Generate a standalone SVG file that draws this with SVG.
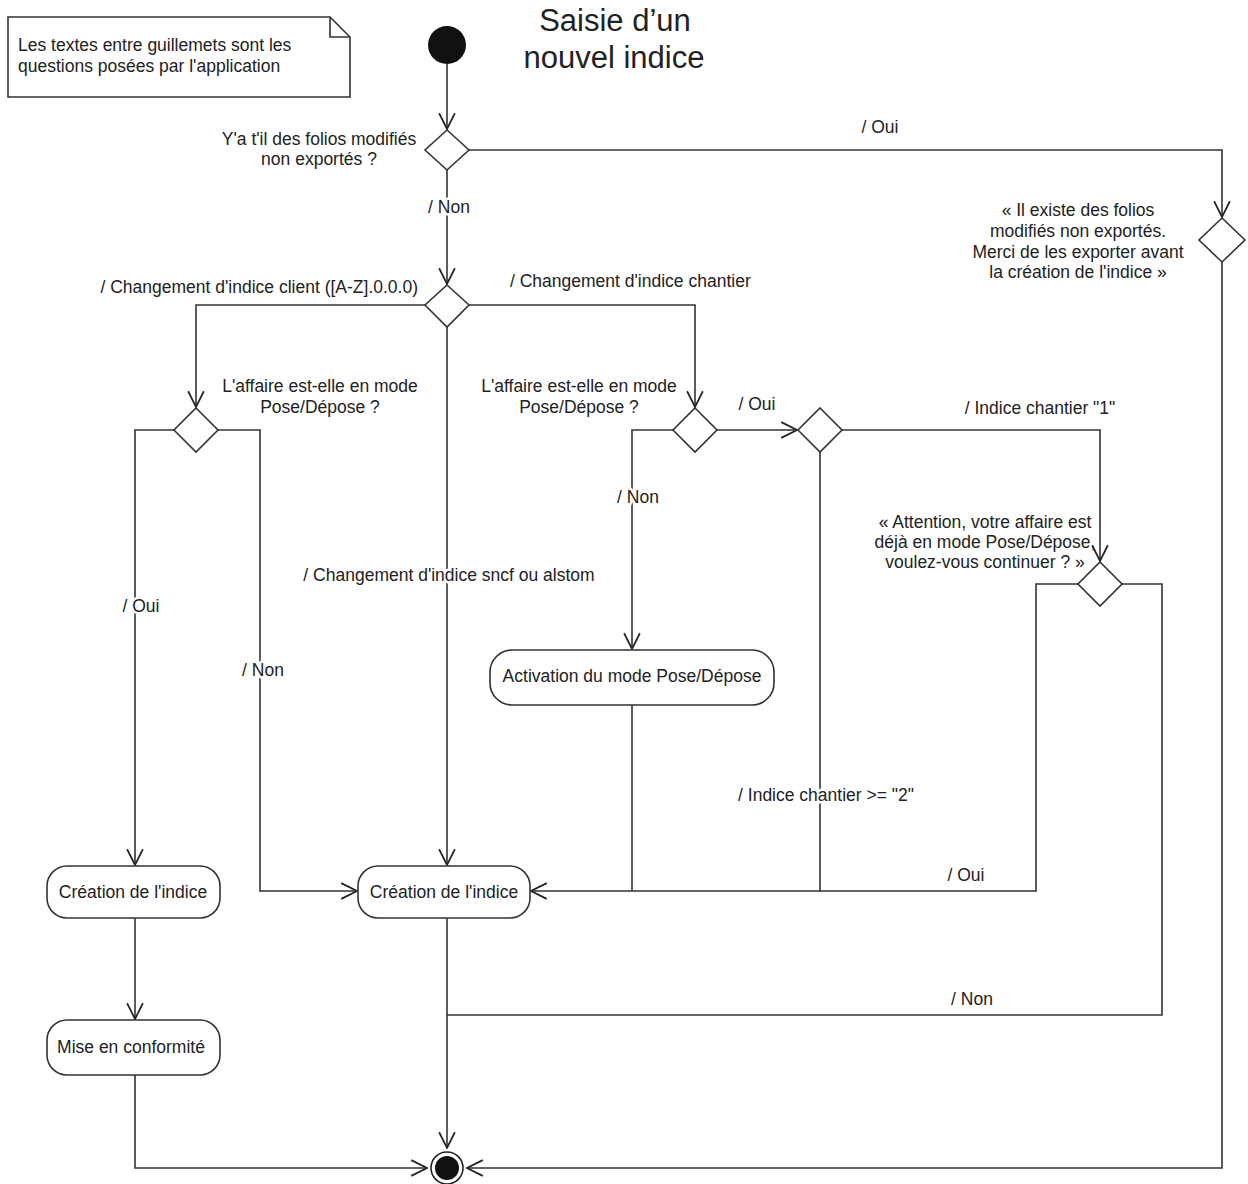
<svg xmlns="http://www.w3.org/2000/svg" width="1248" height="1184" viewBox="0 0 1248 1184">
<defs>
<marker id="arr" viewBox="0 0 16 16" refX="15" refY="8" markerWidth="18" markerHeight="18" markerUnits="userSpaceOnUse" orient="auto">
<path d="M1,1 L15,8 L1,15" fill="none" stroke="#222" stroke-width="1.5"/>
</marker>
<style>
.ln{fill:none;stroke:#333;stroke-width:1.6}
.nd{fill:#fff;stroke:#333;stroke-width:1.6}
.t{font-family:"Liberation Sans",Arial,sans-serif;font-size:17.5px;fill:#222}
.m{text-anchor:middle}
.e{text-anchor:end}
.bg{paint-order:stroke;stroke:#fff;stroke-width:5px;stroke-linejoin:round}
.ttl{font-family:"Liberation Sans",Arial,sans-serif;font-size:31px;fill:#222;text-anchor:middle}
</style>
</defs>
<rect width="1248" height="1184" fill="#fff"/>

<g id="title">
<text class="ttl" x="615" y="31">Saisie d’un</text>
<text class="ttl" x="614" y="68">nouvel indice</text>
</g>

<g id="note">
<path class="nd" d="M8,17 H330 L350,37 V97 H8 Z"/>
<path class="ln" d="M330,17 V37 H350"/>
<text class="t" x="18" y="51">Les textes entre guillemets sont les</text>
<text class="t" x="18" y="72">questions posées par l'application</text>
</g>

<g id="connectors">
<path class="ln" d="M447,64 V129" marker-end="url(#arr)"/>
<path class="ln" d="M469,150 H1222 V217" marker-end="url(#arr)"/>
<path class="ln" d="M1222,262 V1168 H467" marker-end="url(#arr)"/>
<path class="ln" d="M447,170 V284" marker-end="url(#arr)"/>
<path class="ln" d="M425,305 H196 V407" marker-end="url(#arr)"/>
<path class="ln" d="M469,305 H695 V407" marker-end="url(#arr)"/>
<path class="ln" d="M447,327 V865" marker-end="url(#arr)"/>
<path class="ln" d="M174,430 H135 V865" marker-end="url(#arr)"/>
<path class="ln" d="M218,430 H260 V891 H357" marker-end="url(#arr)"/>
<path class="ln" d="M135,918 V1019" marker-end="url(#arr)"/>
<path class="ln" d="M135,1075 V1168 H427" marker-end="url(#arr)"/>
<path class="ln" d="M447,918 V1148" marker-end="url(#arr)"/>
<path class="ln" d="M673,430 H632 V649" marker-end="url(#arr)"/>
<path class="ln" d="M717,430 H797" marker-end="url(#arr)"/>
<path class="ln" d="M632,705 V891"/>
<path class="ln" d="M842,430 H1100 V561" marker-end="url(#arr)"/>
<path class="ln" d="M820,452 V891"/>
<path class="ln" d="M1078,584 H1036 V891 H531" marker-end="url(#arr)"/>
<path class="ln" d="M1122,584 H1162 V1015 H447"/>
</g>

<g id="labels">
<text class="t m" x="880" y="133">/ Oui</text>
<text class="t m bg" x="449" y="213">/ Non</text>
<text class="t e" x="418" y="293">/ Changement d'indice client ([A-Z].0.0.0)</text>
<text class="t" x="510" y="287">/ Changement d'indice chantier</text>
<text class="t m bg" x="141" y="612">/ Oui</text>
<text class="t m bg" x="263" y="676">/ Non</text>
<text class="t m bg" x="449" y="581">/ Changement d'indice sncf ou alstom</text>
<text class="t m bg" x="638" y="503">/ Non</text>
<text class="t m" x="757" y="410">/ Oui</text>
<text class="t m" x="1040" y="414">/ Indice chantier "1"</text>
<text class="t m bg" x="826" y="801">/ Indice chantier &gt;= "2"</text>
<text class="t m" x="966" y="881">/ Oui</text>
<text class="t m" x="972" y="1005">/ Non</text>
</g>

<g id="start">
<circle cx="447" cy="45" r="19" fill="#111"/>
</g>

<g id="d1">
<path class="nd" d="M447,130 L469,150 L447,170 L425,150 Z"/>
<text class="t m" x="319" y="145">Y'a t'il des folios modifiés</text>
<text class="t m" x="319" y="165">non exportés ?</text>
</g>

<g id="d_export">
<path class="nd" d="M1222,218 L1245,240 L1222,262 L1199,240 Z"/>
<text class="t m" x="1078" y="216">« Il existe des folios</text>
<text class="t m" x="1078" y="237">modifiés non exportés.</text>
<text class="t m" x="1078" y="258">Merci de les exporter avant</text>
<text class="t m" x="1078" y="278">la création de l'indice »</text>
</g>

<g id="d2">
<path class="nd" d="M447,285 L469,305 L447,327 L425,305 Z"/>
</g>

<g id="d3">
<path class="nd" d="M196,408 L218,430 L196,452 L174,430 Z"/>
<text class="t m" x="320" y="392">L'affaire est-elle en mode</text>
<text class="t m" x="320" y="413">Pose/Dépose ?</text>
</g>

<g id="d4">
<path class="nd" d="M695,408 L717,430 L695,452 L673,430 Z"/>
<text class="t m" x="579" y="392">L'affaire est-elle en mode</text>
<text class="t m" x="579" y="413">Pose/Dépose ?</text>
</g>

<g id="d5">
<path class="nd" d="M820,408 L842,430 L820,452 L798,430 Z"/>
</g>

<g id="d6">
<path class="nd" d="M1100,562 L1122,584 L1100,606 L1078,584 Z"/>
<text class="t m" x="985" y="528">« Attention, votre affaire est</text>
<text class="t m" x="985" y="548">déjà en mode Pose/Dépose,</text>
<text class="t m" x="985" y="568">voulez-vous continuer ? »</text>
</g>

<g id="creation1">
<rect class="nd" x="47" y="866" width="173" height="52" rx="20"/>
<text class="t m" x="133" y="898">Création de l'indice</text>
</g>

<g id="mise">
<rect class="nd" x="47" y="1020" width="173" height="55" rx="20"/>
<text class="t m" x="131" y="1053">Mise en conformité</text>
</g>

<g id="creation2">
<rect class="nd" x="358" y="866" width="172" height="52" rx="20"/>
<text class="t m" x="444" y="898">Création de l'indice</text>
</g>

<g id="activation">
<rect class="nd" x="490" y="650" width="284" height="55" rx="22"/>
<text class="t m" x="632" y="682">Activation du mode Pose/Dépose</text>
</g>

<g id="end">
<circle cx="447" cy="1168" r="16" fill="#fff" stroke="#222" stroke-width="1.6"/>
<circle cx="447" cy="1168" r="12" fill="#111"/>
</g>
</svg>
